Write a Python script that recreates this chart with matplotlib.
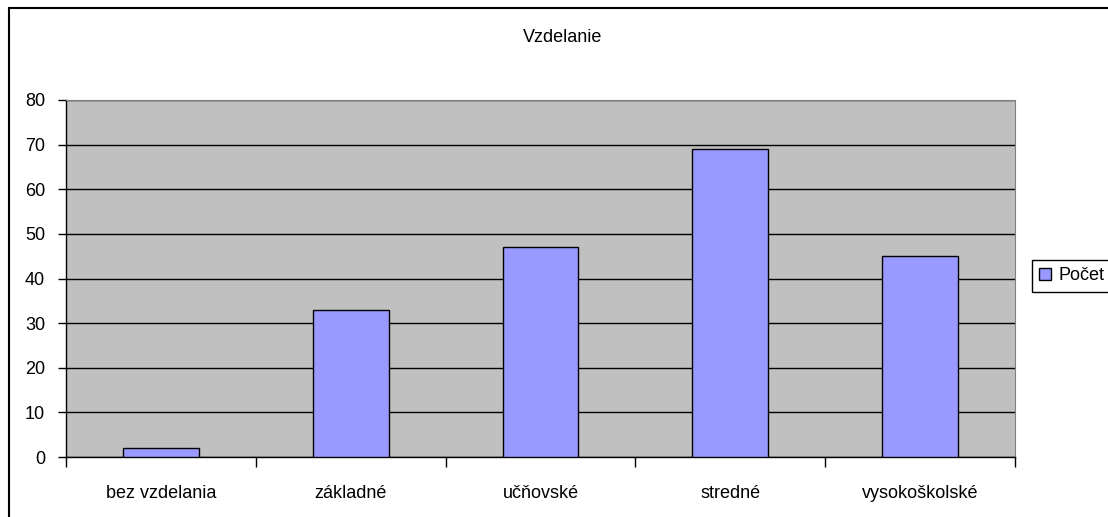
import matplotlib.pyplot as plt
from matplotlib.patches import Rectangle

categories = ['bez vzdelania', 'základné', 'učňovské', 'stredné', 'vysokoškolské']
pocet = [2, 33, 47, 69, 45]
series_name = 'Počet'
title = 'Vzdelanie'

plt.rcParams['font.family'] = ['Liberation Sans', 'DejaVu Sans']

W, H = 1108, 517
fig = plt.figure(figsize=(W / 100, H / 100), dpi=100)

# outer chart border (cut off on right/bottom like the screenshot)
fig.patches.append(Rectangle((9 / W, -0.1), 1.2, 1.1 - 8 / H, transform=fig.transFigure,
                             facecolor='none', edgecolor='black', linewidth=1.5))

ax = fig.add_axes([66 / W, 1 - 457 / H, (1015 - 66) / W, (457 - 100) / H])
ax.set_facecolor('#C0C0C0')

x = list(range(len(categories)))
bars = ax.bar(x, pocet, width=0.4, color='#9999FF', edgecolor='black', linewidth=1,
              label=series_name, zorder=3)

ax.set_xlim(-0.5, len(categories) - 0.5)
ax.set_ylim(0, 80)
ax.set_yticks(range(0, 81, 10))
ax.yaxis.grid(True, color='black', linewidth=1, zorder=1)
ax.set_axisbelow(True)

ax.set_xticks(x)
ax.set_xticklabels(categories, fontsize=13)
ax.tick_params(axis='x', length=0, pad=20)
ax.set_xticks([i - 0.5 for i in range(len(categories) + 1)], minor=True)
ax.tick_params(axis='x', which='minor', length=7, width=1, direction='out')
ax.tick_params(axis='y', length=6, width=1, direction='out', labelsize=13, pad=9)

for side in ['top', 'right']:
    ax.spines[side].set_color('#808080')
for side in ['left', 'bottom']:
    ax.spines[side].set_color('black')
    ax.spines[side].set_linewidth(1)

fig.text(563 / W, 1 - 38 / H, title, ha='center', va='center', fontsize=13)

leg = fig.legend(handles=[bars], labels=[series_name], loc='center left',
                 bbox_to_anchor=(1032 / W, 1 - 276 / H), fontsize=13,
                 frameon=True, fancybox=False, edgecolor='black', framealpha=1,
                 handlelength=0.65, handleheight=0.65, handletextpad=0.4,
                 borderpad=0.4, borderaxespad=0)
leg.get_frame().set_linewidth(1)

fig.savefig('out.png', dpi=100)
